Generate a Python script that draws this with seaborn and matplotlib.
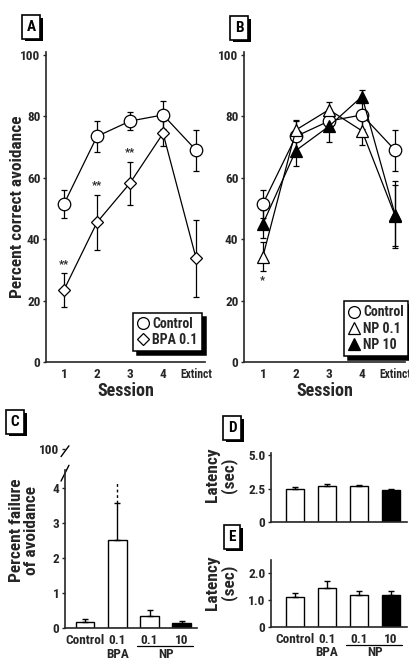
import numpy as np
import pandas as pd
import matplotlib
matplotlib.use("Agg")
import matplotlib.pyplot as plt
import matplotlib.transforms as mtransforms
import matplotlib.patheffects as pe
from matplotlib.lines import Line2D
import seaborn as sns

# ---------------- data ----------------
sessions = ["1", "2", "3", "4", "Extinct"]

ctrl_mean = [51.5, 73.5, 78.5, 80.5, 69.0]
ctrl_sem = [4.5, 5.0, 2.8, 4.5, 6.7]
bpa_mean = [23.5, 45.5, 58.3, 74.5, 33.8]
bpa_sem = [5.5, 9.0, 7.0, 4.0, 12.5]
np01_mean = [34.3, 75.6, 82.2, 75.3, 47.7]
np01_sem = [4.7, 3.3, 2.6, 4.5, 10.0]
np10_mean = [45.0, 68.9, 76.8, 86.5, 48.0]
np10_sem = [4.5, 5.0, 5.2, 2.0, 11.0]

bpa_sig = [0, 1, 2]        # "**"
np01_sig = [0]             # "*"

group_keys = ["Control", "BPA 0.1", "NP 0.1", "NP 10"]
group_ticks = ["Control", "0.1", "0.1", "10"]
bar_colors = {"Control": "white", "BPA 0.1": "white", "NP 0.1": "white", "NP 10": "black"}

fail_mean = [0.17, 2.5, 0.35, 0.15]
fail_sem = [0.1, 1.05, 0.15, 0.05]
bpa_fail_ext = 4.2

lat_d_mean = [2.5, 2.7, 2.65, 2.4]
lat_d_sem = [0.1, 0.12, 0.1, 0.1]
lat_e_mean = [1.1, 1.45, 1.2, 1.2]
lat_e_sem = [0.15, 0.25, 0.15, 0.15]

# ---------------- style ----------------
sns.set_theme(style="ticks")
plt.rcParams["font.family"] = ["Roboto Condensed", "Liberation Sans Narrow", "Roboto", "DejaVu Sans"]
plt.rcParams["font.weight"] = "bold"
plt.rcParams["axes.labelweight"] = "bold"
plt.rcParams["axes.linewidth"] = 1.2
plt.rcParams["xtick.major.size"] = 0
plt.rcParams["ytick.major.size"] = 2
plt.rcParams["ytick.major.width"] = 1
plt.rcParams["xtick.labelsize"] = 9.5
plt.rcParams["ytick.labelsize"] = 9.5
plt.rcParams["xtick.major.pad"] = 4
plt.rcParams["ytick.major.pad"] = 2

W, H = 410, 660
fig = plt.figure(figsize=(W / 100, H / 100), dpi=100)


def px_axes(left, top, right, bottom):
    return fig.add_axes([left / W, 1 - bottom / H, (right - left) / W, (bottom - top) / H])


def panel_label(cx, cy, s):
    t = fig.text(cx / W, 1 - cy / H, s, ha="center", va="center", fontsize=11, color="black",
                 bbox=dict(boxstyle="square,pad=0.3", fc="white", ec="black", lw=1.2))
    t.get_bbox_patch().set_path_effects([
        pe.SimplePatchShadow(offset=(2, -2), shadow_rgbFace="black", alpha=1), pe.Normal()])


def draw_series(ax, mean, sem, marker, fc, ms):
    x = np.arange(len(sessions))
    ax.errorbar(x, mean, yerr=sem, fmt="none", ecolor="black", elinewidth=0.9,
                capsize=2.2, capthick=0.9, zorder=2)
    sns.lineplot(x=x, y=mean, ax=ax, color="black", lw=0.9, marker=marker, markersize=ms,
                 markerfacecolor=fc, markeredgecolor="black", markeredgewidth=0.9,
                 zorder=3, legend=False)


def style_line_axes(ax, xlim):
    sns.despine(ax=ax)
    ax.set_xlim(*xlim)
    ax.set_ylim(0, 101)
    ax.set_yticks([0, 20, 40, 60, 80, 100])
    ax.set_xticks(range(len(sessions)))
    ax.set_xticklabels(sessions)
    ax.get_xticklabels()[-1].set_fontsize(8.3)
    ax.set_xlabel("Session", fontsize=13, labelpad=1)
    ax.set_ylabel("")


# ---------------- panel A ----------------
axA = px_axes(46, 52, 205, 362)
draw_series(axA, ctrl_mean, ctrl_sem, "o", "white", 9)
draw_series(axA, bpa_mean, bpa_sem, "D", "white", 6.2)
style_line_axes(axA, (-0.545, 4.27))
axA.set_ylabel("Percent correct avoidance", fontsize=12.5)
axA.yaxis.set_label_coords(-0.135, 0.5)
for i in bpa_sig:
    axA.text(i, bpa_mean[i] + bpa_sem[i] + 3, "**", ha="center", va="center", fontsize=8)
hA = [Line2D([], [], marker="o", ls="none", mfc="white", mec="black", ms=8.5, mew=0.9),
      Line2D([], [], marker="D", ls="none", mfc="white", mec="black", ms=6, mew=0.9)]
legA = axA.legend(hA, ["Control", "BPA 0.1"], loc="lower right", bbox_to_anchor=(0.98, 0.035),
                  frameon=True, fancybox=False, edgecolor="black", fontsize=10,
                  handlelength=0.8, handletextpad=0.3, borderpad=0.3, labelspacing=0.15,
                  borderaxespad=0, shadow={"color": "black", "alpha": 1, "ox": 3, "oy": -3})
legA.get_frame().set_linewidth(1.1)

# ---------------- panel B ----------------
axB = px_axes(244, 52, 405, 362)
draw_series(axB, ctrl_mean, ctrl_sem, "o", "white", 9)
draw_series(axB, np01_mean, np01_sem, "^", "white", 8.5)
draw_series(axB, np10_mean, np10_sem, "^", "black", 8.5)
style_line_axes(axB, (-0.57, 4.3))
for i in np01_sig:
    axB.text(i, np01_mean[i] - np01_sem[i] - 3, "*", ha="center", va="center", fontsize=8)
hB = [Line2D([], [], marker="o", ls="none", mfc="white", mec="black", ms=8.5, mew=0.9),
      Line2D([], [], marker="^", ls="none", mfc="white", mec="black", ms=8.5, mew=0.9),
      Line2D([], [], marker="^", ls="none", mfc="black", mec="black", ms=8.5, mew=0.9)]
legB = axB.legend(hB, ["Control", "NP 0.1", "NP 10"], loc="lower right",
                  bbox_to_anchor=(1.02, 0.02), frameon=True, fancybox=False,
                  edgecolor="black", fontsize=10, handlelength=0.8, handletextpad=0.3,
                  borderpad=0.3, labelspacing=0.15, borderaxespad=0,
                  shadow={"color": "black", "alpha": 1, "ox": 3, "oy": -3})
legB.get_frame().set_linewidth(1.1)


# ---------------- bar helpers ----------------
def draw_bars(ax, mean, sem):
    df = pd.DataFrame({"group": group_keys, "value": mean})
    sns.barplot(data=df, x="group", y="value", hue="group", palette=bar_colors,
                order=group_keys, hue_order=group_keys, edgecolor="black", linewidth=1,
                width=0.58, errorbar=None, legend=False, ax=ax, zorder=2)
    x = np.arange(len(group_keys))
    ax.errorbar(x, mean, yerr=[np.zeros(len(mean)), sem], fmt="none", ecolor="black",
                elinewidth=1, capsize=2.2, capthick=1, zorder=3)
    sns.despine(ax=ax)
    ax.set_xlabel("")
    ax.set_ylabel("")


def group_labels(ax, dy_line, dy_text):
    tl = mtransforms.blended_transform_factory(ax.transData, ax.transAxes) + \
        mtransforms.ScaledTranslation(0, -dy_line / 100, fig.dpi_scale_trans)
    ax.plot([1.6, 3.35], [0, 0], transform=tl, color="black", lw=0.9, clip_on=False)
    tt = mtransforms.blended_transform_factory(ax.transData, ax.transAxes) + \
        mtransforms.ScaledTranslation(0, -dy_text / 100, fig.dpi_scale_trans)
    ax.text(1, 0, "BPA", transform=tt, ha="center", va="center", fontsize=9.5)
    ax.text(2.5, 0, "NP", transform=tt, ha="center", va="center", fontsize=9.5)


# ---------------- panel C ----------------
axC = px_axes(65, 470, 197, 628)
draw_bars(axC, fail_mean, fail_sem)
axC.plot([1, 1], [fail_mean[1] + fail_sem[1], bpa_fail_ext], color="black", lw=1,
         ls=(0, (2, 2)), zorder=3)
axC.set_xlim(-0.62, 3.47)
axC.set_ylim(0, 4.5)
axC.set_yticks([0, 1, 2, 3, 4])
axC.set_xticks(range(4))
axC.set_xticklabels(group_ticks)
axC.set_ylabel("Percent failure\nof avoidance", fontsize=12.5, linespacing=1.0)
axC.yaxis.set_label_coords(-0.2, 0.62)
group_labels(axC, 18, 26)

axCt = px_axes(65, 444, 197, 462)
axCt.set_ylim(97, 101)
axCt.set_xlim(0, 1)
axCt.set_yticks([100])
axCt.set_xticks([])
for sp in ["top", "right", "bottom", "left"]:
    axCt.spines[sp].set_visible(False)
axCt.patch.set_alpha(0)
kw = dict(color="black", lw=1, clip_on=False)
axCt.plot([-0.03, 0.03], [98.2, 100.6], **kw)
axC.plot([-0.03, 0.03], [0.93, 1.03], transform=axC.transAxes, **kw)

# ---------------- panel D ----------------
axD = px_axes(271, 453, 407, 522)
draw_bars(axD, lat_d_mean, lat_d_sem)
axD.set_xlim(-0.75, 3.5)
axD.set_ylim(0, 5.15)
axD.set_yticks([0, 2.5, 5.0])
axD.set_yticklabels(["0", "2.5", "5.0"])
axD.set_xticks(range(4))
axD.set_xticklabels([])
axD.set_ylabel("Latency\n(sec)", fontsize=12.5, linespacing=1.0)
axD.yaxis.set_label_coords(-0.25, 0.68)

# ---------------- panel E ----------------
axE = px_axes(271, 560, 407, 627)
draw_bars(axE, lat_e_mean, lat_e_sem)
axE.set_xlim(-0.75, 3.5)
axE.set_ylim(0, 2.48)
axE.set_yticks([0, 1.0, 2.0])
axE.set_yticklabels(["0", "1.0", "2.0"])
axE.set_xticks(range(4))
axE.set_xticklabels(group_ticks)
axE.set_ylabel("Latency\n(sec)", fontsize=12.5, linespacing=1.0)
axE.yaxis.set_label_coords(-0.25, 0.66)
group_labels(axE, 18, 26)

# ---------------- panel letters ----------------
panel_label(31, 27, "A")
panel_label(239, 28, "B")
panel_label(15, 422, "C")
panel_label(232, 428, "D")
panel_label(232, 537, "E")

fig.savefig("out.png", dpi=100, facecolor="white")
